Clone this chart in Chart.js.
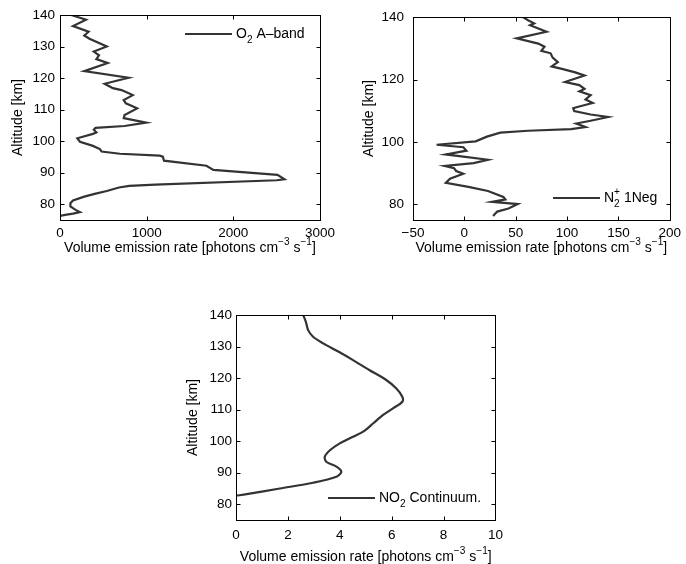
<!DOCTYPE html>
<html>
<head>
<meta charset="utf-8">
<script src="https://cdn.jsdelivr.net/npm/chart.js@4/dist/chart.umd.min.js"></script>
<style>
  html, body { margin: 0; padding: 0; background: #fff; }
  body { width: 686px; height: 564px; position: relative; overflow: hidden; }
  canvas { position: absolute; }
</style>
</head>
<body>
<canvas id="o2Chart" width="340" height="285" style="left:0;top:0"></canvas>
<canvas id="n2Chart" width="346" height="285" style="left:340px;top:0"></canvas>
<canvas id="no2Chart" width="330" height="274" style="left:180px;top:290px"></canvas>
<script>
// O2 A-band profile (altitude km, rate)
const o2Alt = [140, 138.5, 136.5, 134.7, 133.5, 132.5, 130, 128.4, 127.2, 126, 124.8, 122.2, 120.1, 118.2,
  116.8, 116.2, 114.6, 113, 112, 110.4, 108.3, 107.3, 105.9, 104.8, 104.2, 103.6, 102.8, 102.3, 100.9,
  99.8, 98.5, 97.5, 96.7, 96, 95.4, 95.1, 93.8, 92.2, 90.9, 89.3, 87.9, 87.6, 86.2, 85.8, 85.3, 84.2,
  83.3, 82.4, 81.2, 80.3, 79.3, 78.2, 77.5, 77, 76.6, 76.3];
const o2Rate = [130, 300, 150, 330, 280, 340, 540, 390, 450, 420, 550, 280, 790, 515,
  610, 710, 840, 735, 760, 890, 745, 735, 995, 745, 410, 390, 420, 380, 200,
  230, 380, 460, 480, 690, 1150, 1187, 1200, 1690, 1770, 2510, 2590, 2500, 1100, 800, 680, 540,
  400, 280, 150, 120, 120, 180, 230, 150, 60, 0];

// N2+ 1Neg profile
const n2Alt = [140, 139, 138, 137.4, 135.3, 133.2, 131.5, 130.5, 129.2, 128.4, 127, 125.6, 124.2, 123.4,
  122.3, 121.3, 119.2, 118.2, 117, 116.2, 115, 113.6, 112.5, 111.2, 110.8, 109.9, 108.8, 108, 106.8,
  105.9, 104.8, 104.1, 103.6, 103, 101.7, 100.2, 99.1, 98.3, 97.2, 96, 94.3, 93.2, 92.3, 91.6, 90.7,
  89.8, 88.2, 86.9, 85.6, 84.3, 82.4, 81.6, 80.8, 80.1, 78.7, 77.7, 76.3];
const n2Rate = [57, 62, 68, 64, 80, 51, 72, 78, 75, 84, 86, 91, 85, 95,
  108, 117, 98, 112, 117, 112, 123, 118, 125, 110, 106, 107, 123, 140, 123,
  109, 118, 104, 62, 35, 22, 11, -27, -1, 2, -18, 23, 9, -19, -10, -8,
  -1, -14, -18, 4, 23, 38, 40, 27, 52, 43, 32, 28];

// NO2 continuum profile
const no2Alt = [140, 137.9, 135.2, 133.1, 131, 128.4, 125.7, 122.5, 119.4, 116.7, 114.1, 112.5, 110.4,
  108.3, 105.6, 103, 101.4, 99.3, 97.1, 95, 93.4, 91.9, 90.3, 88.7, 86.8, 85, 83.2, 82.7];
const no2Rate = [2.59, 2.69, 2.78, 2.97, 3.36, 3.94, 4.51, 5.15, 5.79, 6.18, 6.41, 6.41, 6.05,
  5.67, 5.28, 4.9, 4.51, 4.0, 3.62, 3.42, 3.49, 3.87, 4.06, 3.87, 2.97, 1.69, 0.41, 0];

// tick labels
const o2XTicks = [0, 1000, 2000, 3000];
const n2XTicks = [-50, 0, 50, 100, 150, 200];
const no2XTicks = [0, 2, 4, 6, 8, 10];
const altTicks = [80, 90, 100, 110, 120, 130, 140];
const n2AltTicks = [80, 100, 120, 140];
const altRange = [75, 140];

const FONT = '"Liberation Sans", Arial, sans-serif';
const FS_TICK = 13.5;
const FS = 14;
const LINE = '#333333';

const xTitleParts = [
  { t: 'Volume emission rate [photons cm' }, { sup: '\u22123' }, { t: ' s' }, { sup: '\u22121' }, { t: ']' }
];

function partWidth(ctx, p, size, small) {
  if (p.t !== undefined) {
    ctx.font = size + 'px ' + FONT;
    return ctx.measureText(p.t).width;
  }
  ctx.font = small + 'px ' + FONT;
  return Math.max(p.sub ? ctx.measureText(p.sub).width : 0, p.sup ? ctx.measureText(p.sup).width : 0);
}

// text with sub/superscripts, drawn on the chart canvas
function drawRich(ctx, parts, x, y, size, align) {
  const small = size * 0.72;
  const widths = parts.map(p => partWidth(ctx, p, size, small));
  const total = widths.reduce((a, b) => a + b, 0);
  let cx = align === 'center' ? x - total / 2 : x;
  ctx.save();
  ctx.fillStyle = '#000';
  ctx.textAlign = 'left';
  ctx.textBaseline = 'middle';
  parts.forEach((p, i) => {
    if (p.t !== undefined) {
      ctx.font = size + 'px ' + FONT;
      ctx.fillText(p.t, cx, y);
    } else {
      ctx.font = small + 'px ' + FONT;
      if (p.sup) ctx.fillText(p.sup, cx, y - size * 0.42);
      if (p.sub) ctx.fillText(p.sub, cx, y + size * 0.42);
    }
    cx += widths[i];
  });
  ctx.restore();
}

// box, inward ticks, legend and x title the matlab way
const matlabBox = {
  id: 'matlabBox',
  afterDatasetsDraw(chart, args, opts) {
    const { ctx, chartArea: a, scales: { x, y } } = chart;
    const L = Math.round(a.left) + 0.5, R = Math.round(a.right) + 0.5;
    const T = Math.round(a.top) + 0.5, B = Math.round(a.bottom) + 0.5;
    ctx.save();
    ctx.strokeStyle = '#000';
    ctx.lineWidth = 1;
    ctx.strokeRect(L, T, R - L, B - T);
    ctx.beginPath();
    x.ticks.forEach(t => {
      const px = Math.round(x.getPixelForValue(t.value)) + 0.5;
      ctx.moveTo(px, B); ctx.lineTo(px, B - 4);
      ctx.moveTo(px, T); ctx.lineTo(px, T + 4);
    });
    y.ticks.forEach(t => {
      const py = Math.round(y.getPixelForValue(t.value)) + 0.5;
      ctx.moveTo(L, py); ctx.lineTo(L + 4, py);
      ctx.moveTo(R, py); ctx.lineTo(R - 4, py);
    });
    ctx.stroke();

    const lx = a.left + opts.legendX, ly = a.top + opts.legendY;
    ctx.strokeStyle = LINE;
    ctx.lineWidth = 2;
    ctx.beginPath();
    ctx.moveTo(lx, ly); ctx.lineTo(lx + 47, ly);
    ctx.stroke();
    drawRich(ctx, opts.label, lx + 51, ly, FS, 'left');

    drawRich(ctx, xTitleParts, (a.left + a.right) / 2, a.bottom + opts.titleGap, FS, 'center');
    ctx.restore();
  }
};

function makeChart(id, alt, rate, xTicks, yTicks, area, box) {
  const canvas = document.getElementById(id);
  const W = canvas.width, H = canvas.height;
  return new Chart(canvas, {
    type: 'scatter',
    data: {
      datasets: [{
        data: rate.map((v, i) => ({ x: v, y: alt[i] })),
        showLine: true,
        borderColor: LINE,
        borderWidth: 2.2,
        pointRadius: 0,
        tension: box.tension || 0,
        fill: false
      }]
    },
    options: {
      responsive: false,
      animation: false,
      events: [],
      layout: { padding: { left: 0, top: area.top, right: W - area.right, bottom: 0 } },
      plugins: {
        legend: { display: false },
        tooltip: { enabled: false },
        matlabBox: box
      },
      scales: {
        x: {
          type: 'linear',
          min: xTicks[0],
          max: xTicks[xTicks.length - 1],
          afterFit: s => { s.height = H - area.bottom; },
          afterBuildTicks: s => { s.ticks = xTicks.map(v => ({ value: v })); },
          grid: { display: false, drawTicks: false },
          border: { display: false },
          ticks: {
            padding: box.xTickPad,
            color: '#000',
            maxRotation: 0,
            autoSkip: false,
            font: { family: FONT, size: FS_TICK },
            callback: v => String(v).replace('-', '\u2212')
          }
        },
        y: {
          type: 'linear',
          min: altRange[0],
          max: altRange[1],
          afterFit: s => { s.width = area.left; },
          afterBuildTicks: s => { s.ticks = yTicks.map(v => ({ value: v })); },
          grid: { display: false, drawTicks: false },
          border: { display: false },
          ticks: {
            padding: box.yTickPad,
            color: '#000',
            autoSkip: false,
            font: { family: FONT, size: FS_TICK }
          },
          title: {
            display: true,
            text: 'Altitude [km]',
            color: '#000',
            font: { family: FONT, size: FS },
            padding: { top: box.yTitlePad, bottom: 0 }
          }
        }
      }
    },
    plugins: [matlabBox]
  });
}

makeChart('o2Chart', o2Alt, o2Rate, o2XTicks, altTicks,
  { left: 60, top: 15, right: 320.5, bottom: 220 },
  { legendX: 125, legendY: 19, titleGap: 28, xTickPad: 5, yTickPad: 5, yTitlePad: 9.5,
    label: [{ t: 'O' }, { sub: '2' }, { t: ' A\u2013band' }] });

makeChart('n2Chart', n2Alt, n2Rate, n2XTicks, n2AltTicks,
  { left: 73, top: 15, right: 333, bottom: 220 },
  { legendX: 140, legendY: 181, titleGap: 28, xTickPad: 5, yTickPad: 9, yTitlePad: 20.5,
    label: [{ t: 'N' }, { sub: '2', sup: '+' }, { t: ' 1Neg' }] });

makeChart('no2Chart', no2Alt, no2Rate, no2XTicks, altTicks,
  { left: 56, top: 25, right: 316, bottom: 230 },
  { legendX: 92, legendY: 183, titleGap: 37, xTickPad: 7, yTickPad: 4, yTitlePad: 4.5, tension: 0.3,
    label: [{ t: 'NO' }, { sub: '2' }, { t: ' Continuum.' }] });
</script>
</body>
</html>
